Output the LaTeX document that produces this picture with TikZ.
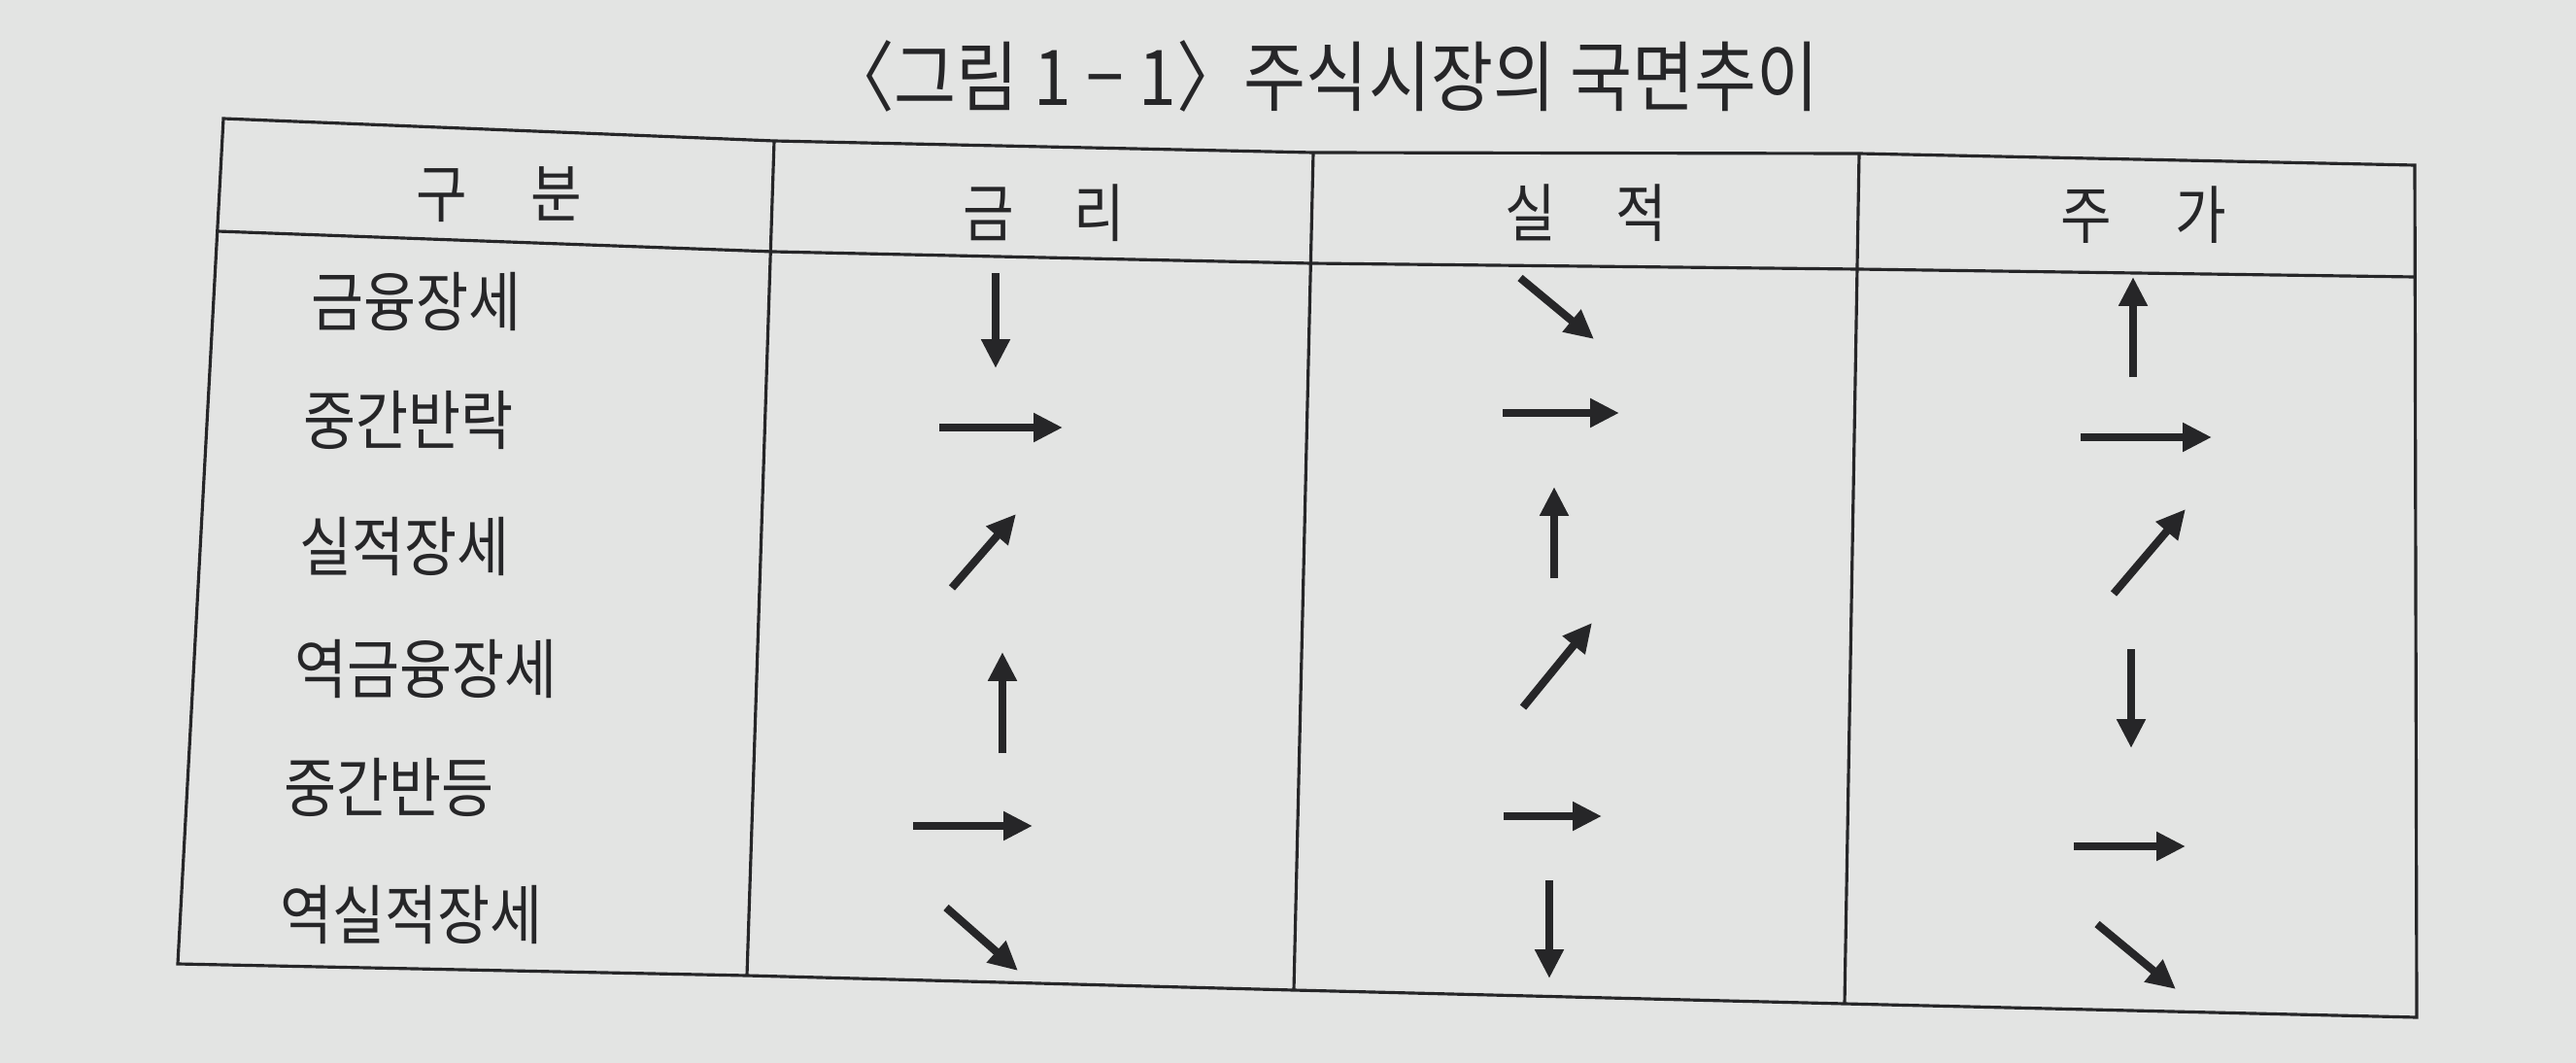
\documentclass[tikz,border=0pt]{standalone}
\usepackage{fontspec}
\setmainfont{Noto Sans CJK KR}
\newfontfamily\cellfont{Noto Sans CJK KR}[FakeStretch=0.88]
\usetikzlibrary{arrows.meta}
\definecolor{paper}{RGB}{227,228,227}
\definecolor{ink}{RGB}{38,38,40}
\tikzset{%
    rule/.style={draw=ink, line width=0.9pt},
    trend/.style={draw=ink, line width=2.3pt, -{Triangle[length=8.5pt,width=8pt]}},
    rowlabel/.style={anchor=west, inner sep=0pt, text=ink, font=\cellfont\fontsize{19}{22}\selectfont},
    colhead/.style={inner sep=0pt, text=ink, font=\cellfont\fontsize{18.5}{22}\selectfont}
}

\begin{document}
\begin{tikzpicture}
\fill[paper] (0,0) rectangle (26.52,-10.94);
\useasboundingbox (0,0) rectangle (26.52,-10.94);

%\draw [help lines] (0,0) grid (26,-10);
\node[inner sep=0pt, text=ink, font=\cellfont\fontsize{22.5}{26}\selectfont] (T) at (13.62,-0.78) {〈그림 1 − 1〉주식시장의 국면추이};

% frame corners and column rules
\coordinate (TL) at (2.30,-1.22);  \coordinate (TR) at (24.86,-1.70);
\coordinate (BL) at (1.83,-9.92);  \coordinate (BR) at (24.88,-10.47);
\coordinate (HL) at (2.24,-2.38);  \coordinate (HR) at (24.86,-2.85);
\coordinate (C1t) at (7.97,-1.45); \coordinate (C1b) at (7.69,-10.04);
\coordinate (C2t) at (13.52,-1.57); \coordinate (C2b) at (13.32,-10.19);
\coordinate (C3t) at (19.14,-1.58); \coordinate (C3b) at (18.99,-10.33);

\draw[rule] (TL) -- (C1t) -- (C2t) -- (C3t) -- (TR) -- (BR) -- (C3b) -- (C2b) -- (C1b) -- (BL) -- cycle;
\draw[rule] (HL) -- (7.96,-2.59) -- (13.50,-2.71) -- (19.13,-2.77) -- (HR);
\draw[rule] (C1t) -- (C1b);
\draw[rule] (C2t) -- (C2b);
\draw[rule] (C3t) -- (C3b);

% header row
\node[colhead] (H0) at (5.14,-2.00) {구\hspace{0.66cm}분};
\node[colhead] (H1) at (10.75,-2.19) {금\hspace{0.62cm}리};
\node[colhead] (H2) at (16.33,-2.19) {실\hspace{0.62cm}적};
\node[colhead] (H3) at (22.07,-2.21) {주\hspace{0.66cm}가};

% phases
\node[rowlabel] (L1) at (3.20,-3.10) {금융장세};
\node[rowlabel] (L2) at (3.12,-4.32) {중간반락};
\node[rowlabel] (L3) at (3.08,-5.62) {실적장세};
\node[rowlabel] (L4) at (3.03,-6.88) {역금융장세};
\node[rowlabel] (L5) at (2.92,-8.10) {중간반등};
\node[rowlabel] (L6) at (2.88,-9.41) {역실적장세};

% rate
\coordinate (G1a) at (10.25,-2.81); \coordinate (G1b) at (10.25,-3.79);
\coordinate (G2a) at (9.67,-4.40);  \coordinate (G2b) at (10.94,-4.40);
\coordinate (G3a) at (9.80,-6.05);  \coordinate (G3b) at (10.46,-5.29);
\coordinate (G4a) at (10.32,-7.75); \coordinate (G4b) at (10.32,-6.71);
\coordinate (G5a) at (9.40,-8.50);  \coordinate (G5b) at (10.63,-8.50);
\coordinate (G6a) at (9.74,-9.34);  \coordinate (G6b) at (10.48,-9.99);

% earnings
\coordinate (S1a) at (15.65,-2.86); \coordinate (S1b) at (16.41,-3.49);
\coordinate (S2a) at (15.47,-4.25); \coordinate (S2b) at (16.67,-4.25);
\coordinate (S3a) at (16.00,-5.95); \coordinate (S3b) at (16.00,-5.01);
\coordinate (S4a) at (15.68,-7.28); \coordinate (S4b) at (16.39,-6.41);
\coordinate (S5a) at (15.48,-8.40); \coordinate (S5b) at (16.49,-8.40);
\coordinate (S6a) at (15.95,-9.06); \coordinate (S6b) at (15.95,-10.07);

% price
\coordinate (J1a) at (21.96,-3.88); \coordinate (J1b) at (21.96,-2.85);
\coordinate (J2a) at (21.42,-4.50); \coordinate (J2b) at (22.77,-4.50);
\coordinate (J3a) at (21.76,-6.11); \coordinate (J3b) at (22.50,-5.24);
\coordinate (J4a) at (21.94,-6.68); \coordinate (J4b) at (21.94,-7.70);
\coordinate (J5a) at (21.35,-8.71); \coordinate (J5b) at (22.50,-8.71);
\coordinate (J6a) at (21.59,-9.51); \coordinate (J6b) at (22.40,-10.18);

\path[every edge/.style={trend}]
% rate column
(G1a) edge (G1b)
(G2a) edge (G2b)
(G3a) edge (G3b)
(G4a) edge (G4b)
(G5a) edge (G5b)
(G6a) edge (G6b)
% earnings column
(S1a) edge (S1b)
(S2a) edge (S2b)
(S3a) edge (S3b)
(S4a) edge (S4b)
(S5a) edge (S5b)
(S6a) edge (S6b)
% price column
(J1a) edge (J1b)
(J2a) edge (J2b)
(J3a) edge (J3b)
(J4a) edge (J4b)
(J5a) edge (J5b)
(J6a) edge (J6b)
;
\end{tikzpicture}
\end{document}
